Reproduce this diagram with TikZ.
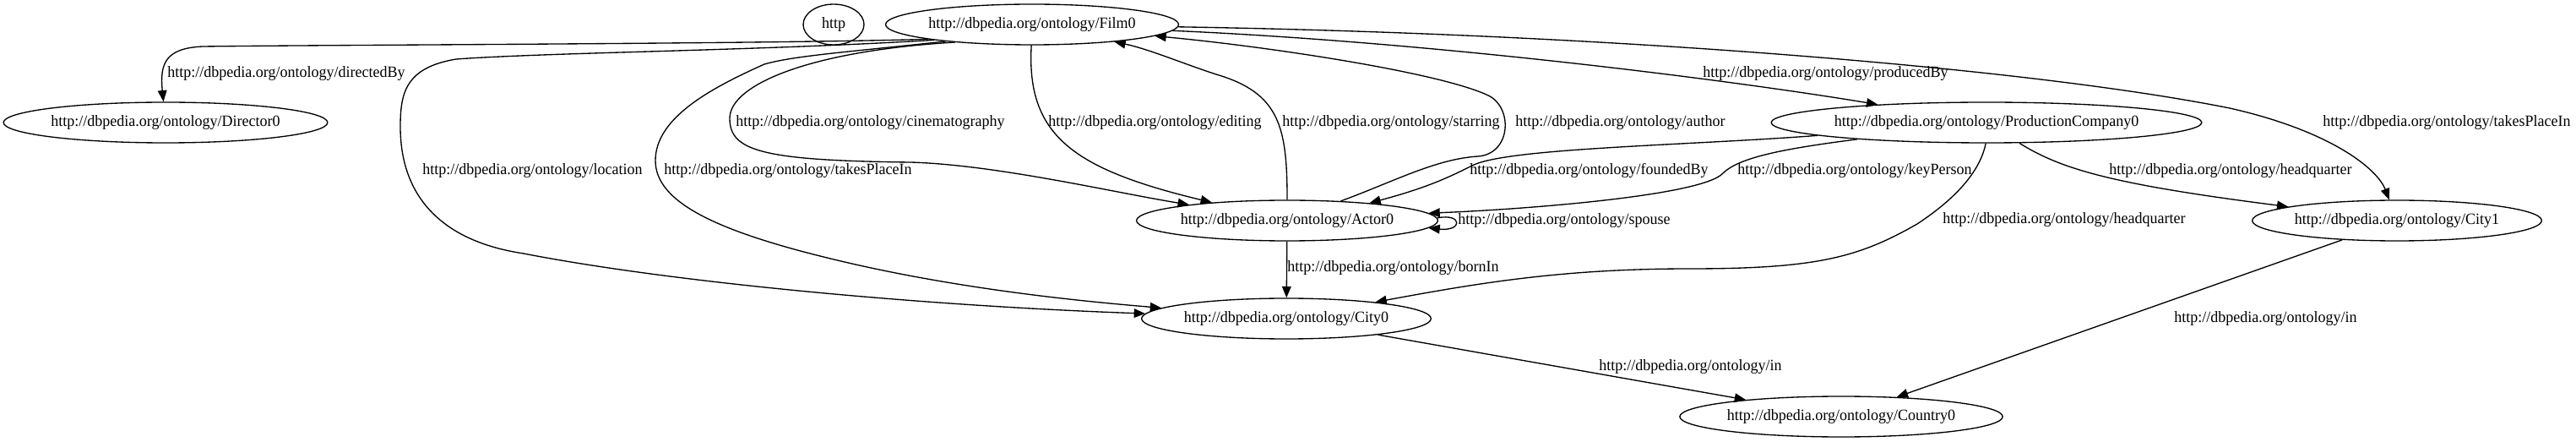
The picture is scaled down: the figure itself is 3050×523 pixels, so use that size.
\documentclass[tikz,border=0pt]{standalone}
\usepackage{fontspec}
\newfontfamily\ontofont{Liberation Serif}[FakeStretch=0.965]
\usepackage{tikz}
\usetikzlibrary{shapes.geometric, arrows.meta}

\begin{document}
\begin{tikzpicture}[
      x=0.75pt, y=-0.75pt,
      font=\ontofont\fontsize{14pt}{16pt}\selectfont,
      ent/.style={ellipse, draw, line width=1pt, inner sep=0pt, minimum width=54pt, minimum height=36pt},
      lbl/.style={anchor=west, inner sep=0pt},
      rel/.style={-{Triangle[length=10pt, width=8pt]}, line width=1pt},
    ]
    \useasboundingbox (0,0) rectangle (3050,523);

    \node[ent] (http) at (987,29) {http};
    \node[ent] (film) at (1222,29) {http://dbpedia.org/ontology/Film0};
    \node[ent] (director) at (196,145) {http://dbpedia.org/ontology/Director0};
    \node[ent] (pc) at (2352,145) {http://dbpedia.org/ontology/ProductionCompany0};
    \node[ent] (actor) at (1524,261) {http://dbpedia.org/ontology/Actor0};
    \node[ent] (city1) at (2838,261) {http://dbpedia.org/ontology/City1};
    \node[ent] (city0) at (1523,377) {http://dbpedia.org/ontology/City0};
    \node[ent] (country) at (2180,493) {http://dbpedia.org/ontology/Country0};

    % edges leaving Film0
    \draw[rel] (film.188) .. controls (900,52) and (400,53) .. (240,55)
      .. controls (196,57) and (189,75) .. (director);
    \draw[rel] (film.189) .. controls (900,60) and (650,62) .. (540,70)
      .. controls (480,80) and (474,110) .. (474,150)
      .. controls (474,230) and (520,285) .. (620,300)
      .. controls (800,335) and (1100,362) .. (city0);
    \draw[rel] (film.191) .. controls (1000,62) and (940,66) .. (905,76)
      .. controls (840,105) and (776,140) .. (776,190)
      .. controls (776,240) and (850,275) .. (1000,310)
      .. controls (1150,345) and (1300,358) .. (city0);
    \draw[rel] (film.193) .. controls (960,60) and (864,100) .. (864,140)
      .. controls (864,178) and (900,190) .. (1078,192)
      .. controls (1180,195) and (1320,228) .. (actor);
    \draw[rel] (film.268) .. controls (1215,160) and (1270,200) .. (actor);
    \draw[rel] (film) .. controls (1700,50) and (2050,95) .. (pc);
    \draw[rel] (film) .. controls (1900,40) and (2400,80) .. (2640,128)
      .. controls (2760,155) and (2815,200) .. (city1);

    % edges leaving Actor0
    \draw[rel] (actor.north) .. controls (1524,150) and (1515,110) .. (1440,88)
      .. controls (1400,75) and (1360,58) .. (film);
    \draw[rel] (actor.20) .. controls (1650,215) and (1700,188) .. (1750,185)
      .. controls (1790,182) and (1792,125) .. (1760,112)
      .. controls (1700,85) and (1500,55) .. (film);
    \draw[rel] (actor.1) .. controls (1732,252) and (1732,274) .. (actor.357);
    \draw[rel] (actor) -- (city0);

    % edges leaving ProductionCompany0
    \draw[rel] (pc) .. controls (2000,172) and (1790,175) .. (1745,195)
      .. controls (1715,210) and (1690,222) .. (actor.12);
    \draw[rel] (pc) .. controls (2120,175) and (2060,185) .. (2040,205)
      .. controls (2015,232) and (1800,248) .. (actor.3);
    \draw[rel] (pc.268) .. controls (2345,200) and (2320,232) .. (2270,265)
      .. controls (2200,305) and (2150,318) .. (2000,318)
      .. controls (1850,318) and (1750,335) .. (city0);
    \draw[rel] (pc) .. controls (2440,200) and (2500,218) .. (city1);

    % cities
    \draw[rel] (city0) -- (country);
    \draw[rel] (city1) -- (country);

    % labels
    \node[lbl] (lDirected) at (198,87) {http://dbpedia.org/ontology/directedBy};
    \node[lbl] (lLocation) at (500,202) {http://dbpedia.org/ontology/location};
    \node[lbl] (lPlaceA) at (786,202) {http://dbpedia.org/ontology/takesPlaceIn};
    \node[lbl] (lCinema) at (871,145) {http://dbpedia.org/ontology/cinematography};
    \node[lbl] (lEditing) at (1241,145) {http://dbpedia.org/ontology/editing};
    \node[lbl] (lStarring) at (1518,145) {http://dbpedia.org/ontology/starring};
    \node[lbl] (lAuthor) at (1794,145) {http://dbpedia.org/ontology/author};
    \node[lbl] (lProduced) at (2016,87) {http://dbpedia.org/ontology/producedBy};
    \node[lbl] (lPlaceB) at (2750,145) {http://dbpedia.org/ontology/takesPlaceIn};
    \node[lbl] (lFounded) at (1740,202) {http://dbpedia.org/ontology/foundedBy};
    \node[lbl] (lKey) at (2057,202) {http://dbpedia.org/ontology/keyPerson};
    \node[lbl] (lHqB) at (2497,202) {http://dbpedia.org/ontology/headquarter};
    \node[lbl] (lHqA) at (2300,260) {http://dbpedia.org/ontology/headquarter};
    \node[lbl] (lSpouse) at (1726,261) {http://dbpedia.org/ontology/spouse};
    \node[lbl] (lBorn) at (1524,317) {http://dbpedia.org/ontology/bornIn};
    \node[lbl] (lInA) at (1893,434) {http://dbpedia.org/ontology/in};
    \node[lbl] (lInB) at (2574,377) {http://dbpedia.org/ontology/in};
  \end{tikzpicture}
\end{document}
